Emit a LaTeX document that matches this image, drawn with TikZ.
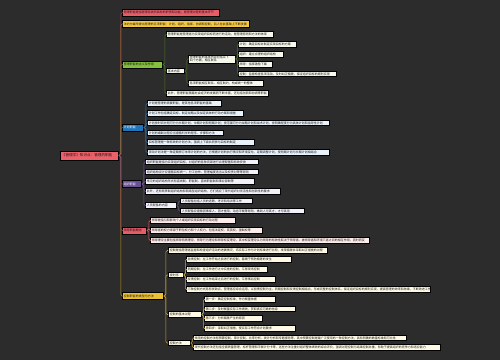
\documentclass[tikz,border=0pt]{standalone}
\usepackage{fontspec}
\newfontfamily\cjk{Noto Sans CJK SC}
\usepackage{xcolor}
\usetikzlibrary{positioning}

\definecolor{bg}{RGB}{44,44,44}
\definecolor{rootred}{RGB}{236,96,106}
\definecolor{cred}{RGB}{232,92,104}
\definecolor{cyel}{RGB}{245,200,66}
\definecolor{cgrn}{RGB}{132,192,60}
\definecolor{cblu}{RGB}{32,118,188}
\definecolor{cpur}{RGB}{108,80,150}
\definecolor{cgold}{RGB}{236,192,52}
\definecolor{fgrn}{RGB}{246,248,236}
\definecolor{fblu}{RGB}{232,242,250}
\definecolor{fpur}{RGB}{242,240,248}
\definecolor{fred}{RGB}{253,236,236}
\definecolor{fyel}{RGB}{253,249,228}

\tikzset{
  box/.style={draw=black, line width=0.8pt, anchor=west, align=left,
    inner xsep=1.5pt, inner ysep=0.6pt, minimum height=5.5pt,
    font=\cjk\fontsize{3}{3.6}\selectfont, text=black!90},
  lvl/.style={box, minimum height=6.8pt},
  gkid/.style={box, fill=fgrn},
  bkid/.style={box, fill=fblu},
  pkid/.style={box, fill=fpur},
  rkid/.style={box, fill=fred},
  ykid/.style={box, fill=fyel},
  lnk/.style={line width=0.6pt, rounded corners=1.5pt},
}

\begin{document}
\begin{tikzpicture}[x=1pt, y=-1pt]
  \fill[bg] (0,0) rectangle (500,360);
  % root
  \node[lvl, fill=rootred, minimum height=9pt, text width=55pt,
        font=\cjk\fontsize{3.6}{4}\selectfont] (root) at (60,155.5) {《管理学》知识点：管理的职能};
  % first level
  \node[lvl, fill=cred, text width=94pt] (b1) at (122,12.5) {管理职能是指管理系统所具有的职责和功能，是管理过程的基本环节};
  \node[lvl, fill=cyel, text width=124pt] (b2) at (122,24) {法约尔最早提出管理的五项职能：计划、组织、指挥、协调和控制，后人在此基础上不断发展};
  \node[lvl, fill=cgrn, text width=37pt] (b3) at (122,64.5) {管理职能的含义及作用};
  \node[lvl, fill=cblu, text width=18pt, text=white] (b4) at (122,127.5) {计划职能};
  \node[lvl, fill=cpur, text width=16pt, text=white] (b5) at (122,184) {组织职能};
  \node[lvl, fill=cred, text width=21pt] (b6) at (122,230.5) {领导职能概述};
  \node[lvl, fill=cgold, text width=38pt] (b7) at (122,296) {控制职能的类型与方法};

  % green branch
  \node[gkid, text width=104pt] (g1) at (166,34.5) {管理职能是管理者为实现组织目标而进行的活动，是管理原则和方法的体现};
  \node[gkid, text width=15pt] (g2) at (166,71) {基本内容};
  \node[gkid, text width=44pt, minimum height=8pt] (g21) at (188,59) {管理职能的基本内容包括以下\\四个方面，相互联系};
  \node[gkid, text width=55pt] (g211) at (238,44.5) {计划：确定目标并制定实现目标的方案};
  \node[gkid, text width=42pt] (g212) at (238,54.5) {组织：建立合理的组织结构};
  \node[gkid, text width=31pt] (g213) at (238,64.5) {领导：指挥激励下属};
  \node[gkid, text width=95pt] (g214) at (238,74) {控制：监督检查各项活动，及时纠正偏差，保证组织目标的顺利实现};
  \node[gkid, text width=72pt] (g22) at (188,83.5) {各项职能相互联系、相互制约，构成统一的整体};
  \node[gkid, text width=99pt] (g3) at (166,93.5) {此外，管理职能随着社会经济的发展而不断丰富，还包括创新和协调等职能};

  % blue branch
  \node[bkid, text width=71pt] (u1) at (147,103.5) {计划是管理的首要职能，是其他各项职能的基础};
  \node[bkid, text width=93pt] (u2) at (147,113.5) {计划工作包括确定目标、制定战略以及拟定具体的行动方案和措施};
  \node[bkid, text width=179pt] (u3) at (147,123) {计划按时间长短可分为长期计划、中期计划和短期计划；按范围可分为战略计划和战术计划，按明确程度分为具体计划和指导性计划};
  \node[bkid, text width=73pt] (u4) at (147,133) {计划的编制过程应当遵循科学的程序、步骤和方法};
  \node[bkid, text width=104pt] (u5) at (147,142.5) {目标管理是一种有效的计划方法，强调上下级共同参与目标的制定};
  \node[bkid, text width=179pt] (u6) at (147,152.5) {滚动计划法是一种定期修订未来计划的方法，它根据计划的执行情况和环境变化，定期调整计划，使短期计划与长期计划相结合};

  % purple branch
  \node[pkid, text width=110pt] (p1) at (145,162) {组织职能是指为实现组织目标，对组织的各种资源进行合理配置和有效安排};
  \node[pkid, text width=110pt] (p2) at (145,172) {组织结构设计应遵循目标统一、分工协作、管理幅度适当以及权责对等等原则};
  \node[pkid, text width=106pt] (p3) at (145,181.5) {常见的组织结构形式有直线制、职能制、直线职能制和事业部制等};
  \node[pkid, text width=132pt] (p4) at (145,191.5) {此外，还有矩阵制组织结构和网络型组织结构，它们适应了现代组织对灵活性和创新性的要求};
  \node[pkid, text width=28pt] (p5) at (145,205.5) {人员配备的内容};
  \node[pkid, text width=69pt] (p51) at (180,201) {人员配备包括人员的选聘、考评和培训等工作};
  \node[pkid, text width=121pt] (p52) at (180,211) {人员配备应遵循因事择人、因才施用、动态平衡等原则，做到人尽其才、才尽其用};

  % red branch
  \node[rkid, text width=82pt] (r1) at (150,220.5) {领导是指引和影响个人或组织实现目标的行动过程};
  \node[rkid, text width=109pt] (r2) at (150,230.5) {领导者的权力来源于职位权力和个人权力，包括法定权、奖赏权、强制权等};
  \node[rkid, text width=216pt] (r3) at (150,240.5) {领导理论主要包括领导特质理论、领导行为理论和领导权变理论，其中权变理论认为领导的有效性取决于领导者、被领导者和环境三者之间的相互作用，因时而变};

  % yellow branch
  \node[ykid, text width=156pt] (y1) at (168,250.5) {控制是指管理者监督和检查组织活动的进展情况，将实际工作与计划标准进行比较，发现偏差并采取纠正措施的过程};
  \node[ykid, text width=12pt] (y2) at (168,275) {按时序};
  \node[ykid, text width=102pt] (y21) at (186,259.5) {前馈控制：在工作开始之前进行的控制，着眼于预防偏差的发生};
  \node[ykid, text width=78pt] (y22) at (186,269.5) {同期控制：在工作进行之中实施的控制，又称现场控制};
  \node[ykid, text width=86pt] (y23) at (186,279.5) {反馈控制：在工作结束之后进行的控制，又称事后控制};
  \node[ykid, text width=241pt] (y24) at (186,289.5) {三种控制方式各有优缺点，管理者应综合运用，以前馈控制为主，同期控制和反馈控制相结合，形成完整的控制体系，保证组织目标的顺利实现，提高管理的效率和效果，不断改进工作};
  \node[ykid, text width=30pt] (y3) at (168,314.5) {控制的基本过程};
  \node[ykid, text width=68pt] (y31) at (204,299.5) {第一步：确定控制标准，作为衡量依据};
  \node[ykid, text width=88pt] (y32) at (204,309) {第二步：及时衡量实际工作绩效，获取真实可靠的信息};
  \node[ykid, text width=55pt] (y33) at (204,318.5) {第三步：分析偏差产生的原因};
  \node[ykid, text width=88pt] (y34) at (204,328.5) {第四步：采取纠正措施，使实际工作符合计划要求};
  \node[ykid, text width=19pt] (y4) at (168,343) {控制方法};
  \node[ykid, text width=210pt] (y41) at (193,338) {常用的控制方法有预算控制、审计控制、比率分析、统计分析和专题报告等，其中预算控制是最广泛使用的一种控制方法，具有明确的数量标准和可比性};
  \node[ykid, text width=244pt] (y42) at (193,347.5) {现代控制方法还包括全面质量管理、标杆管理和平衡计分卡等，这些方法注重对组织整体绩效的综合评价，强调过程控制与结果控制并重，有助于提高组织的竞争力和适应能力};

  % connectors from root
  \draw[lnk, cgold!80!black] (root.east) -- ++(2,0) |- (b7.west);
  \draw[lnk, cred!80!black] (root.east) -- ++(2,0) |- (b6.west);
  \draw[lnk, cpur] (root.east) -- ++(2,0) |- (b5.west);
  \draw[lnk, cblu] (root.east) -- ++(2,0) |- (b4.west);
  \draw[lnk, cgrn!70!black] (root.east) -- ++(2,0) |- (b3.west);
  \draw[lnk, cyel!75!black] (root.east) -- ++(2,0) |- (b2.west);
  \draw[lnk, cred!70!black] (root.east) -- ++(2,0) |- (b1.west);

  % green
  \foreach \k in {g1,g2,g3}
    \draw[lnk, cgrn!60!black] (b3.east) -- ++(2,0) |- (\k.west);
  \foreach \k in {g21,g22}
    \draw[lnk, cgrn!60!black] (g2.east) -- ++(2,0) |- (\k.west);
  \foreach \k in {g211,g212,g213,g214}
    \draw[lnk, cgrn!60!black] (g21.east) -- ++(1.5,0) |- (\k.west);
  % blue
  \foreach \k in {u1,u2,u3,u4,u5,u6}
    \draw[lnk, cblu] (b4.east) -- ++(2,0) |- (\k.west);
  % purple
  \foreach \k in {p1,p2,p3,p4,p5}
    \draw[lnk, cpur] (b5.east) -- ++(2,0) |- (\k.west);
  \foreach \k in {p51,p52}
    \draw[lnk, cpur] (p5.east) -- ++(1.5,0) |- (\k.west);
  % red
  \foreach \k in {r1,r2,r3}
    \draw[lnk, cred] (b6.east) -- ++(2,0) |- (\k.west);
  % yellow
  \foreach \k in {y1,y2,y3,y4}
    \draw[lnk, cgold!85!black] (b7.east) -- ++(2,0) |- (\k.west);
  \foreach \k in {y21,y22,y23,y24}
    \draw[lnk, cgold!85!black] (y2.east) -- ++(1.5,0) |- (\k.west);
  \foreach \k in {y31,y32,y33,y34}
    \draw[lnk, cgold!85!black] (y3.east) -- ++(1.5,0) |- (\k.west);
  \foreach \k in {y41,y42}
    \draw[lnk, cgold!85!black] (y4.east) -- ++(1.5,0) |- (\k.west);
\end{tikzpicture}
\end{document}
